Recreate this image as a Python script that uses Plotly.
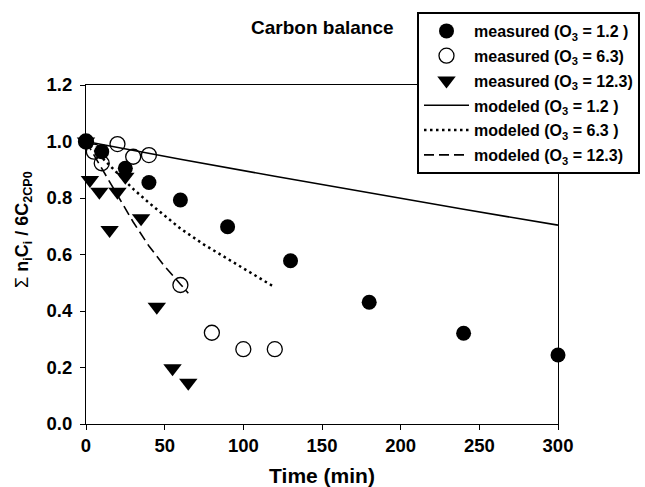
import plotly.graph_objects as go

# measured data
t_m12 = [0, 10, 25, 40, 60, 90, 130, 180, 240, 300]
c_m12 = [1.0, 0.964, 0.905, 0.855, 0.793, 0.698, 0.578, 0.431, 0.321, 0.244]

t_m63 = [0, 5, 10, 20, 30, 40, 60, 80, 100, 120]
c_m63 = [1.0, 0.964, 0.923, 0.991, 0.946, 0.952, 0.492, 0.323, 0.265, 0.265]

t_m123 = [0, 2.5, 8.5, 15, 20, 25, 35, 45, 55, 65]
c_m123 = [1.0, 0.864, 0.822, 0.687, 0.822, 0.875, 0.728, 0.415, 0.197, 0.146]

# modeled curves
t_p12 = [0, 60, 120, 180, 240, 300]
c_p12 = [1.0, 0.937, 0.877, 0.818, 0.760, 0.704]

t_p63 = [0, 10, 20, 30, 40, 50, 60, 75, 90, 105, 120]
c_p63 = [1.0, 0.945, 0.888, 0.832, 0.783, 0.737, 0.692, 0.635, 0.585, 0.533, 0.484]

t_p123 = [0, 10, 20, 30, 40, 50, 60, 65]
c_p123 = [1.0, 0.905, 0.81, 0.715, 0.63, 0.558, 0.495, 0.463]

x_ticks = [0, 50, 100, 150, 200, 250, 300]
y_ticks = [0.0, 0.2, 0.4, 0.6, 0.8, 1.0, 1.2]

FONT = "Liberation Sans, Arial, Helvetica, sans-serif"

fig = go.Figure()

fig.add_trace(go.Scatter(
    x=t_m12, y=c_m12, mode="markers", name="measured (O<sub>3</sub> = 1.2 )",
    legendgroup="a",
    marker=dict(symbol="circle", size=15, color="black"), cliponaxis=False))
fig.add_trace(go.Scatter(
    x=t_m63, y=c_m63, mode="markers", name="measured (O<sub>3</sub> = 6.3)",
    legendgroup="b",
    marker=dict(symbol="circle-open", size=15, color="black", line=dict(width=1.3, color="black")),
    cliponaxis=False))
fig.add_trace(go.Scatter(
    x=t_m123, y=c_m123, mode="markers", name="measured (O<sub>3</sub> = 12.3)",
    legendgroup="c",
    marker=dict(symbol="triangle-down", size=16, color="black"), cliponaxis=False))
fig.add_trace(go.Scatter(
    x=t_p12, y=c_p12, mode="lines", name="modeled (O<sub>3</sub> = 1.2 )",
    legendgroup="d",
    line=dict(color="black", width=1.6), cliponaxis=False))
fig.add_trace(go.Scatter(
    x=t_p63, y=c_p63, mode="lines", name="modeled (O<sub>3</sub> = 6.3 )",
    legendgroup="e",
    line=dict(color="black", width=2.5, dash="2.5px,3.5px"), cliponaxis=False))
fig.add_trace(go.Scatter(
    x=t_p123, y=c_p123, mode="lines", name="modeled (O<sub>3</sub> = 12.3)",
    legendgroup="f",
    line=dict(color="black", width=1.6, dash="10px,5px"), cliponaxis=False))

fig.add_annotation(
    text="Carbon balance", xref="paper", yref="paper", x=0.5, y=1.171,
    xanchor="center", yanchor="middle", showarrow=False,
    font=dict(family=FONT, size=19, color="black", weight="bold"))

# y-axis title (placed as annotation to match its offset position)
fig.add_annotation(
    text="<span style='font-weight:normal'>Σ</span> n<sub>i</sub>C<sub>i</sub> / 6C<sub>2CP0</sub>",
    xref="paper", yref="paper", x=(23 - 86) / 472, y=(424 - 230) / 339,
    xanchor="center", yanchor="middle", showarrow=False, textangle=-90,
    font=dict(family=FONT, size=18, color="black", weight="bold"))

axis_common = dict(
    showline=True, linecolor="black", linewidth=1, mirror=True,
    ticks="outside", ticklen=5, tickwidth=1, tickcolor="black",
    showgrid=False, zeroline=False,
    tickfont=dict(family=FONT, size=18.5, color="black", weight="bold"),
)

fig.update_xaxes(
    range=[0, 300], tickvals=x_ticks, ticktext=[str(v) for v in x_ticks],
    title=dict(text="Time (min)", font=dict(family=FONT, size=21, color="black", weight="bold"),
               standoff=15),
    **axis_common)
fig.update_yaxes(
    range=[0, 1.2], tickvals=y_ticks, ticktext=[f"{v:.1f}" for v in y_ticks],
    ticklabelstandoff=4,
    **axis_common)

fig.update_layout(
    width=645, height=487,
    margin=dict(l=86, r=87, t=85, b=63, autoexpand=False),
    paper_bgcolor="white", plot_bgcolor="white",
    showlegend=True,
    legend=dict(
        x=(417 - 86) / 472, y=(424 - 12) / 339, xanchor="left", yanchor="top",
        bgcolor="white", bordercolor="black", borderwidth=2,
        font=dict(family=FONT, size=16, color="black", weight="bold"),
        tracegroupgap=1, itemwidth=45,
    ),
)

fig.write_html("out.html", config={"displayModeBar": False},
               post_script="document.body.style.margin='0px';")
